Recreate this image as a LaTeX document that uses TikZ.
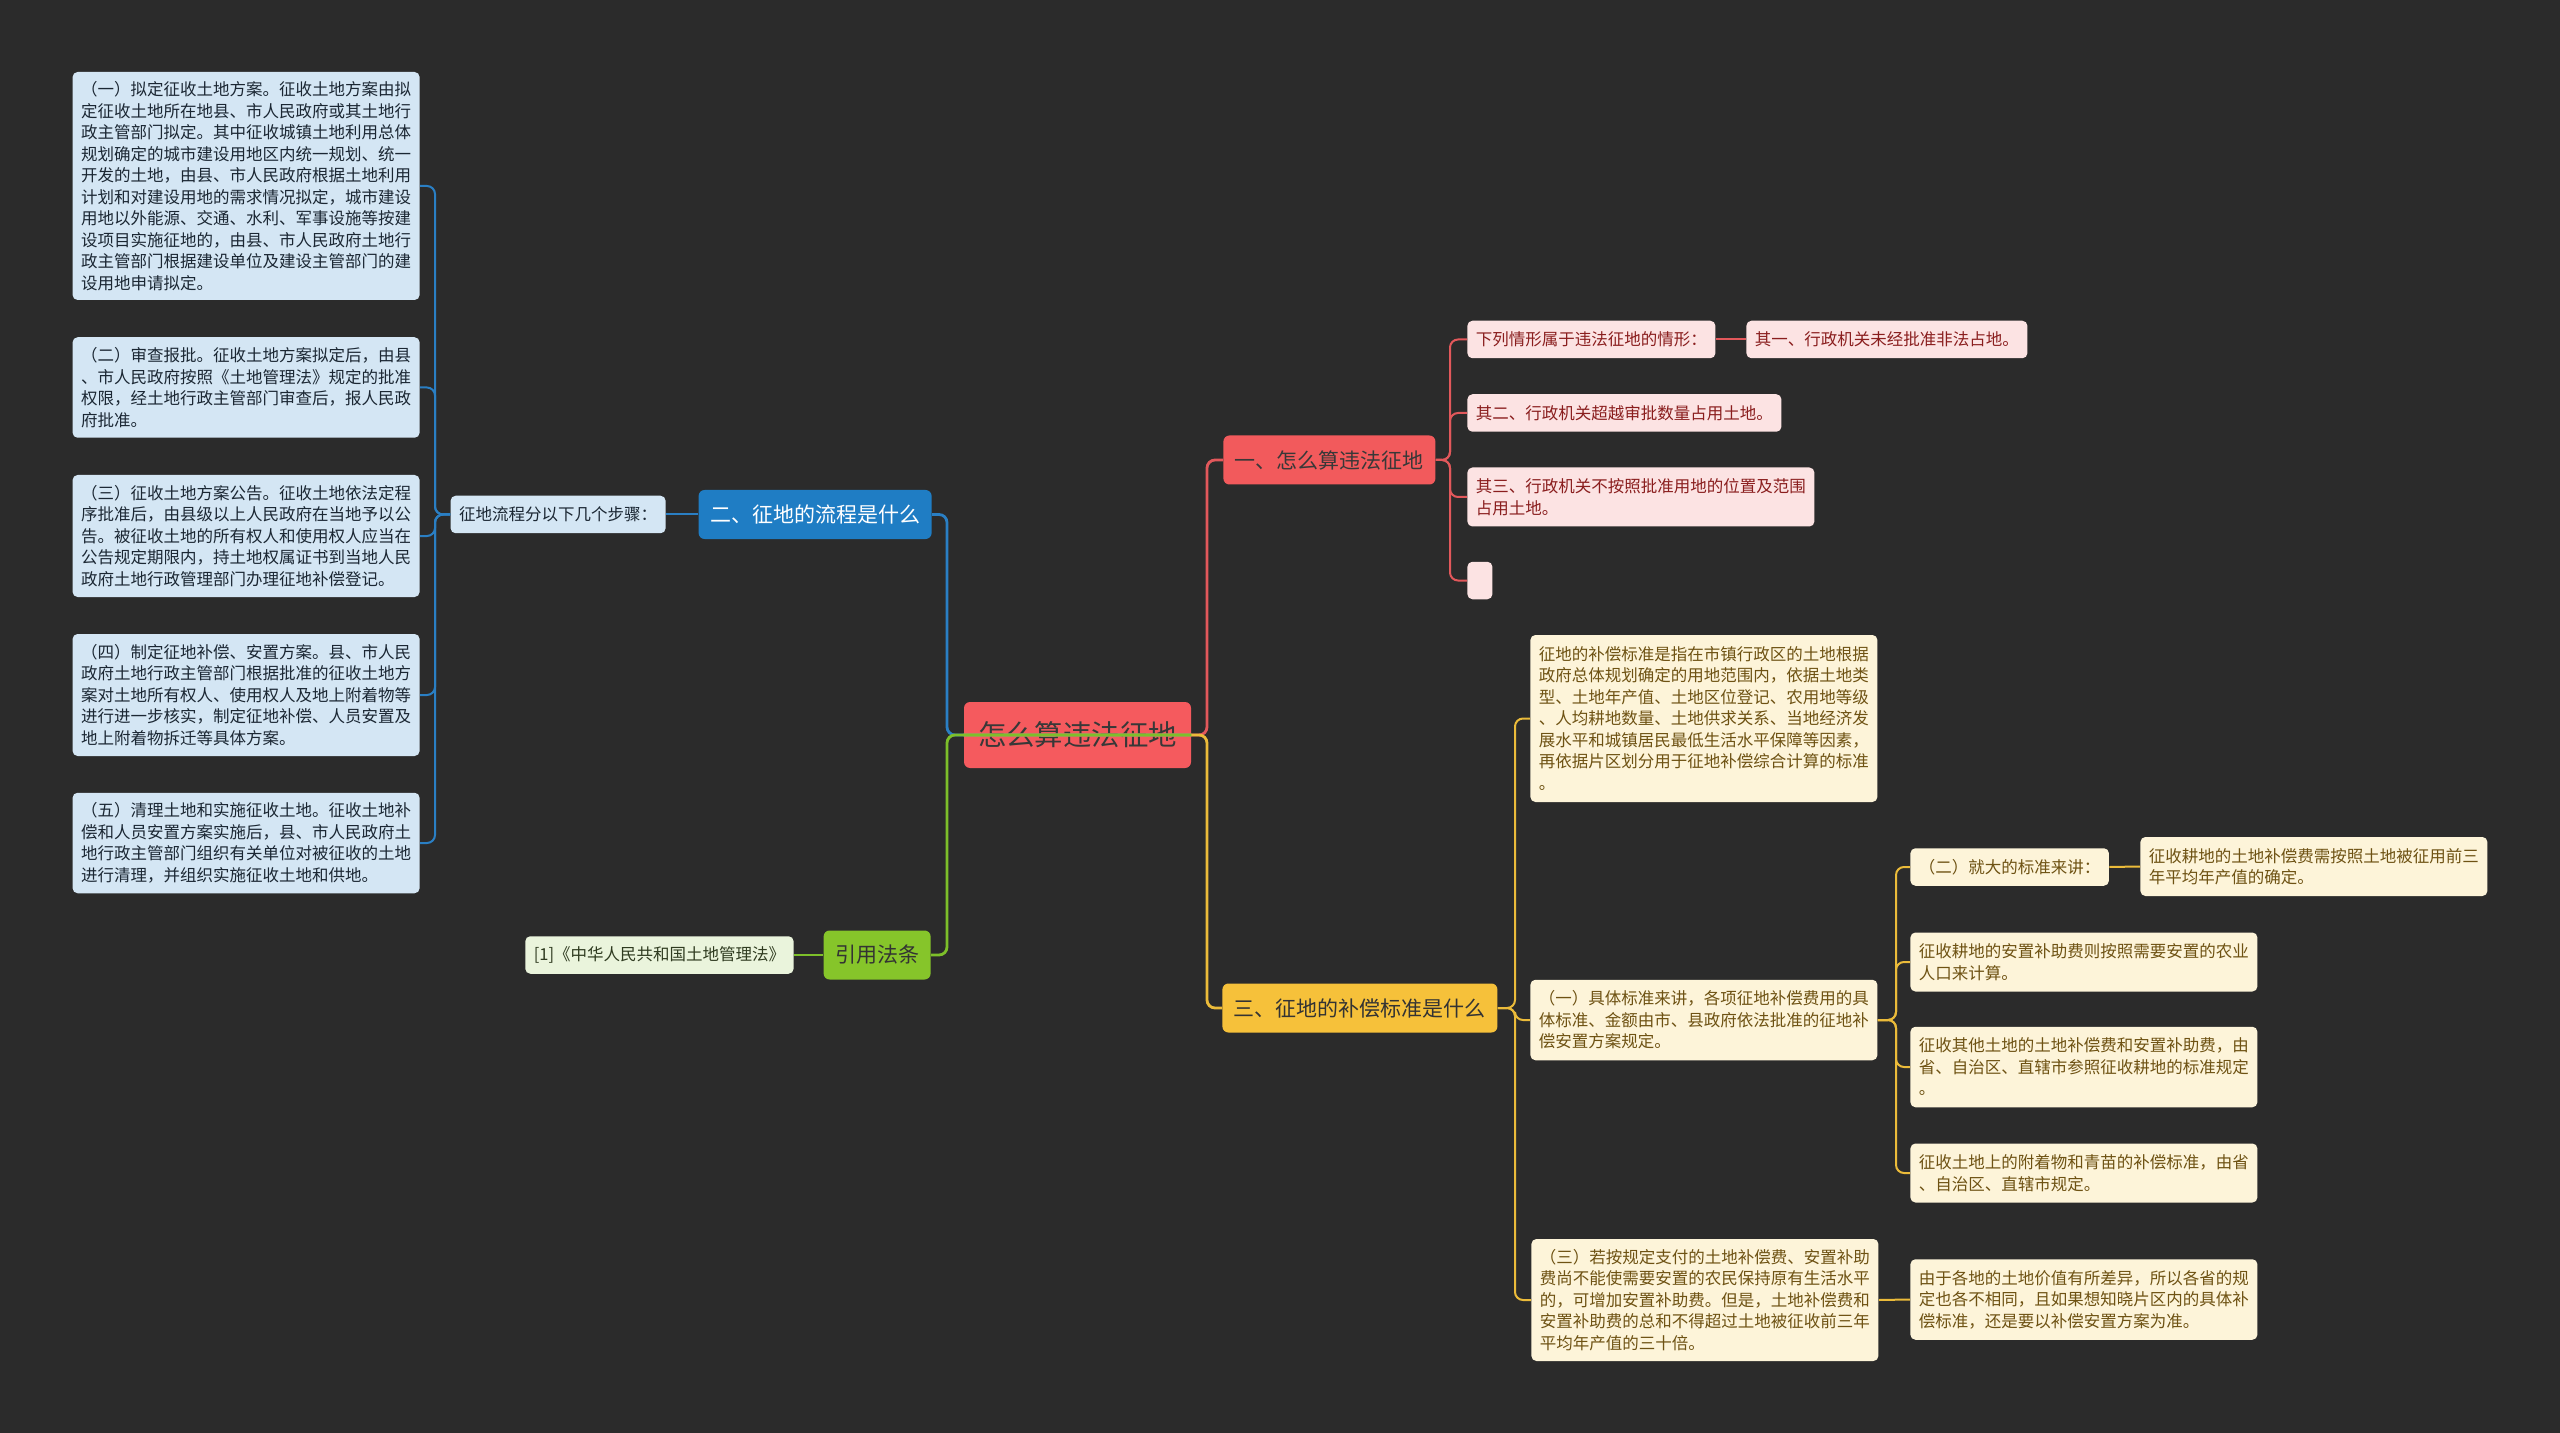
\documentclass[tikz,border=0pt]{standalone}
\usepackage{fontspec}
\setmainfont{Noto Sans CJK SC}
\usepackage{xcolor}
\usepackage{tikz}
\usetikzlibrary{positioning,calc}

\definecolor{canvas}{HTML}{2B2B2B}
\definecolor{rootred}{HTML}{F55A5E}
\definecolor{redmain}{HTML}{F25A5C}
\definecolor{redleaf}{HTML}{FCE3E3}
\definecolor{redtext}{HTML}{8A1E1E}
\definecolor{redline}{HTML}{E2585B}
\definecolor{bluemain}{HTML}{1F7DC4}
\definecolor{blueleaf}{HTML}{D4E6F4}
\definecolor{bluetext}{HTML}{1B2733}
\definecolor{blueline}{HTML}{2A7FC4}
\definecolor{yellowmain}{HTML}{F6C13A}
\definecolor{yellowleaf}{HTML}{FDF4D9}
\definecolor{yellowtext}{HTML}{6E5213}
\definecolor{yellowline}{HTML}{EBBB3A}
\definecolor{greenmain}{HTML}{86C52A}
\definecolor{greenleaf}{HTML}{EAF4DC}
\definecolor{greentext}{HTML}{2F3B20}
\definecolor{greenline}{HTML}{7DBF2A}

\begin{document}
\begin{tikzpicture}[x=0.5pt, y=-0.5pt,
    core/.style={rectangle, rounded corners=3pt, fill=rootred, text=black!78, font=\fontsize{14.2pt}{16pt}\selectfont, minimum width=113.5pt, minimum height=33pt, inner sep=0pt},
    branch/.style={rectangle, rounded corners=3pt, font=\fontsize{10.5pt}{12pt}\selectfont, minimum height=24.5pt, inner xsep=5.75pt, inner ysep=0pt},
    leaf/.style={rectangle, rounded corners=2.5pt, align=left, font=\fontsize{8.25pt}{10.75pt}\selectfont, inner xsep=4.25pt, inner ysep=3pt},
    redbox/.style={leaf, fill=redleaf, text=redtext, anchor=west},
    bluebox/.style={leaf, fill=blueleaf, text=bluetext, anchor=east},
    yellowbox/.style={leaf, fill=yellowleaf, text=yellowtext, anchor=west},
    greenbox/.style={leaf, fill=greenleaf, text=greentext, anchor=east},
    rows1/.style={minimum height=18.75pt},
    rows2/.style={minimum height=29.5pt},
    rows3/.style={minimum height=40.25pt},
    rows4/.style={minimum height=50.25pt},
    rows5/.style={minimum height=61pt},
    rows7/.style={minimum height=83.5pt},
    rows10/.style={minimum height=114pt},
    link/.style={line width=1pt, rounded corners=4pt},
    trunk/.style={line width=1.4pt, rounded corners=4pt}
]

\useasboundingbox (0,0) rectangle (2560,1433);
\fill[canvas] (0,0) rectangle (2560,1433);

% Root and main branches
\node[core] (root) at (1077.5,735) {怎么算违法征地};
\node[branch, fill=redmain, text=black!78, anchor=west] (illegal) at (1223,460) {一、怎么算违法征地};
\node[branch, fill=bluemain, text=white, anchor=east] (process) at (932,514.5) {二、征地的流程是什么};
\node[branch, fill=yellowmain, text=black!80, anchor=west] (standard) at (1222,1008) {三、征地的补偿标准是什么};
\node[branch, fill=greenmain, text=black!80, anchor=east] (lawref) at (931,955) {引用法条};

\coordinate (leftfork) at (947,735);
\coordinate (rightfork) at (1207,735);

% Trunk lines
\draw[trunk, redline] (root.west) -- (rightfork) |- (illegal.west);
\draw[trunk, blueline] (root.east) -- (leftfork) |- (process.east);
\draw[trunk, yellowline] (root.west) -- (rightfork) |- (standard.west);
\draw[trunk, greenline] (root.east) -- (leftfork) |- (lawref.east);

% Branch one
\node[redbox, rows1] (kinds) at (1467,339.5) {下列情形属于违法征地的情形：};
\node[redbox, rows1] (caseone) at (1746,339.5) {其一、行政机关未经批准非法占地。};
\node[redbox, rows1] (casetwo) at (1467,413) {其二、行政机关超越审批数量占用土地。};
\node[redbox, rows2] (casethree) at (1467,497) {其三、行政机关不按照批准用地的位置及范围\\占用土地。};
\node[redbox, rows1, minimum width=12.5pt] (blank) at (1467,580.5) {};

\coordinate (redfork) at (1450,460);
\draw[link, redline] (illegal.east) -- (redfork) |- (kinds.west);
\draw[link, redline] (illegal.east) -- (redfork) |- (casetwo.west);
\draw[link, redline] (illegal.east) -- (redfork) |- (casethree.west);
\draw[link, redline] (illegal.east) -- (redfork) |- (blank.west);
\draw[link, redline] (kinds.east) -- (caseone.west);

% Branch two
\node[bluebox, rows1] (steps) at (666,514.5) {征地流程分以下几个步骤：};
\node[bluebox, rows10] (draftplan) at (420,186) {（一）拟定征收土地方案。征收土地方案由拟\\定征收土地所在地县、市人民政府或其土地行\\政主管部门拟定。其中征收城镇土地利用总体\\规划确定的城市建设用地区内统一规划、统一\\开发的土地，由县、市人民政府根据土地利用\\计划和对建设用地的需求情况拟定，城市建设\\用地以外能源、交通、水利、军事设施等按建\\设项目实施征地的，由县、市人民政府土地行\\政主管部门根据建设单位及建设主管部门的建\\设用地申请拟定。};
\node[bluebox, rows4] (approval) at (420,387.5) {（二）审查报批。征收土地方案拟定后，由县\\、市人民政府按照《土地管理法》规定的批准\\权限，经土地行政主管部门审查后，报人民政\\府批准。};
\node[bluebox, rows5] (notice) at (420,536) {（三）征收土地方案公告。征收土地依法定程\\序批准后，由县级以上人民政府在当地予以公\\告。被征收土地的所有权人和使用权人应当在\\公告规定期限内，持土地权属证书到当地人民\\政府土地行政管理部门办理征地补偿登记。};
\node[bluebox, rows5] (resettleplan) at (420,695) {（四）制定征地补偿、安置方案。县、市人民\\政府土地行政主管部门根据批准的征收土地方\\案对土地所有权人、使用权人及地上附着物等\\进行进一步核实，制定征地补偿、人员安置及\\地上附着物拆迁等具体方案。};
\node[bluebox, rows4] (clearance) at (420,843) {（五）清理土地和实施征收土地。征收土地补\\偿和人员安置方案实施后，县、市人民政府土\\地行政主管部门组织有关单位对被征收的土地\\进行清理，并组织实施征收土地和供地。};

\coordinate (bluefork) at (435,514.5);
\draw[link, blueline] (process.west) -- (steps.east);
\draw[link, blueline] (steps.west) -- (bluefork) |- (draftplan.east);
\draw[link, blueline] (steps.west) -- (bluefork) |- (approval.east);
\draw[link, blueline] (steps.west) -- (bluefork) |- (notice.east);
\draw[link, blueline] (steps.west) -- (bluefork) |- (resettleplan.east);
\draw[link, blueline] (steps.west) -- (bluefork) |- (clearance.east);

% Law reference
\node[greenbox, rows1] (lawname) at (794,955) {[1]《中华人民共和国土地管理法》};
\draw[link, greenline] (lawref.west) -- (lawname.east);

% Branch three
\node[yellowbox, rows7] (meaning) at (1530,718.5) {征地的补偿标准是指在市镇行政区的土地根据\\政府总体规划确定的用地范围内，依据土地类\\型、土地年产值、土地区位登记、农用地等级\\、人均耕地数量、土地供求关系、当地经济发\\展水平和城镇居民最低生活水平保障等因素，\\再依据片区划分用于征地补偿综合计算的标准\\。};
\node[yellowbox, rows3] (specific) at (1530,1020) {（一）具体标准来讲，各项征地补偿费用的具\\体标准、金额由市、县政府依法批准的征地补\\偿安置方案规定。};
\node[yellowbox, rows5] (extra) at (1531,1300) {（三）若按规定支付的土地补偿费、安置补助\\费尚不能使需要安置的农民保持原有生活水平\\的，可增加安置补助费。但是，土地补偿费和\\安置补助费的总和不得超过土地被征收前三年\\平均年产值的三十倍。};

\coordinate (yellowfork) at (1515,1008);
\draw[link, yellowline] (standard.east) -- (yellowfork) |- (meaning.west);
\draw[link, yellowline] (standard.east) -- (yellowfork) |- (specific.west);
\draw[link, yellowline] (standard.east) -- (yellowfork) |- (extra.west);

\node[yellowbox, rows1] (general) at (1910,867) {（二）就大的标准来讲：};
\node[yellowbox, rows2] (arable) at (2140,866.5) {征收耕地的土地补偿费需按照土地被征用前三\\年平均年产值的确定。};
\node[yellowbox, rows2] (resettle) at (1910,962) {征收耕地的安置补助费则按照需要安置的农业\\人口来计算。};
\node[yellowbox, rows3] (otherland) at (1910,1067) {征收其他土地的土地补偿费和安置补助费，由\\省、自治区、直辖市参照征收耕地的标准规定\\。};
\node[yellowbox, rows2] (crops) at (1910,1173) {征收土地上的附着物和青苗的补偿标准，由省\\、自治区、直辖市规定。};
\node[yellowbox, rows3] (regional) at (1910,1299.5) {由于各地的土地价值有所差异，所以各省的规\\定也各不相同，且如果想知晓片区内的具体补\\偿标准，还是要以补偿安置方案为准。};

\coordinate (subfork) at (1896,1020);
\draw[link, yellowline] (specific.east) -- (subfork) |- (general.west);
\draw[link, yellowline] (specific.east) -- (subfork) |- (resettle.west);
\draw[link, yellowline] (specific.east) -- (subfork) |- (otherland.west);
\draw[link, yellowline] (specific.east) -- (subfork) |- (crops.west);
\draw[link, yellowline] (general.east) -- (arable.west);
\draw[link, yellowline] (extra.east) -- (regional.west);

\end{tikzpicture}
\end{document}
